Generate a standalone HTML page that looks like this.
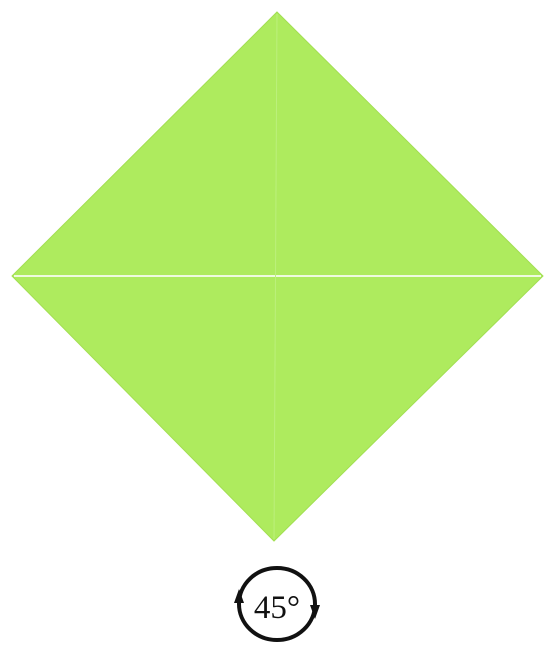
<!DOCTYPE html>
<html><head><meta charset="utf-8"><style>
html,body{margin:0;padding:0;background:#fff;}
svg{display:block;}
</style></head><body>
<svg width="553" height="645" viewBox="0 0 553 645" xmlns="http://www.w3.org/2000/svg">
  <polygon points="277,12 543,276 274,541 12,276" fill="#aeeb5e" stroke="#a2df52" stroke-width="1"/>
  <line x1="14" y1="276" x2="541" y2="276" stroke="#eefadf" stroke-width="2"/>
  <line x1="277" y1="14" x2="274" y2="539" stroke="#bcf07c" stroke-width="1"/>
  <g>
    <ellipse cx="277" cy="604" rx="38" ry="36" fill="none" stroke="#111" stroke-width="4"/>
    <polygon points="239,589 234,603 244,603" fill="#111"/>
    <polygon points="315,619 310,605 320,605" fill="#111"/>
    <text x="277" y="618" text-anchor="middle" font-family="Liberation Serif, serif" font-size="33" fill="#111">45°</text>
  </g>
</svg>
</body></html>
